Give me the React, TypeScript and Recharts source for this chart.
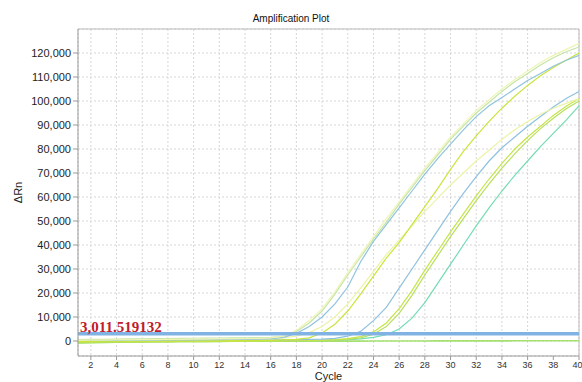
import React from "react";
import {
  LineChart, Line, XAxis, YAxis, CartesianGrid, ReferenceLine,
} from "recharts";

const cycles = [
  1, 2, 3, 4, 5, 6, 7, 8, 9, 10, 11, 12, 13, 14, 15, 16, 17, 18, 19, 20,
  21, 22, 23, 24, 25, 26, 27, 28, 29, 30, 31, 32, 33, 34, 35, 36, 37, 38, 39, 40,
];

const xTicks = [2, 4, 6, 8, 10, 12, 14, 16, 18, 20, 22, 24, 26, 28, 30, 32, 34, 36, 38, 40];
const yTicks = [0, 10000, 20000, 30000, 40000, 50000, 60000, 70000, 80000, 90000, 100000, 110000, 120000];

const threshold = 3011.519132;

// delta Rn per cycle, one array per well
const paleYellowA = [300, 350, 400, 450, 500, 550, 600, 650, 700, 750, 800, 850, 900, 1000, 1100, 1300, 2000, 4500, 8500, 13500, 20500, 28500, 36000, 43500, 51000, 58000, 65000, 72000, 78500, 85000, 90500, 96000, 100500, 105000, 109000, 112500, 116000, 119000, 121500, 124000];
const paleGreenA = [600, 650, 700, 800, 850, 900, 1000, 1050, 1100, 1150, 1200, 1250, 1300, 1350, 1400, 1500, 1900, 4000, 7500, 12500, 19500, 27500, 35000, 42500, 49500, 57000, 64000, 71000, 77500, 84000, 89500, 95000, 99500, 104000, 108000, 111500, 115000, 118000, 120500, 122500];
const blueA = [200, 250, 300, 300, 350, 400, 400, 450, 500, 500, 550, 600, 650, 700, 800, 1000, 1500, 3200, 6000, 10000, 15500, 22500, 33000, 41500, 48500, 55500, 62500, 69500, 76000, 82000, 88000, 93500, 98000, 101500, 105000, 108500, 111500, 114500, 117000, 119000];
const yellowB = [-200, -150, -100, -100, -50, 0, 0, 50, 50, 100, 100, 150, 150, 200, 250, 300, 450, 700, 1300, 3300, 7000, 12500, 19500, 27000, 34500, 41000, 48500, 56000, 63500, 71500, 79000, 85500, 91500, 97000, 102000, 106500, 110500, 114000, 117000, 120000];
const paleYellowB = [100, 150, 200, 200, 250, 300, 300, 350, 400, 400, 450, 500, 550, 600, 700, 900, 1300, 2000, 3500, 6000, 10000, 15500, 22000, 29000, 36000, 42000, 48000, 54000, 59500, 65000, 70000, 75000, 79500, 84000, 88000, 91500, 94500, 97000, 99000, 101000];
const blueC = [0, 50, 100, 100, 150, 200, 200, 250, 300, 300, 350, 350, 400, 400, 450, 450, 500, 550, 650, 800, 1100, 2000, 4000, 8500, 14000, 22000, 30000, 38000, 46000, 54000, 61500, 68500, 75000, 80500, 85000, 89500, 93500, 97500, 101000, 104000];
const yellowC = [-400, -350, -300, -300, -250, -200, -200, -150, -150, -100, -100, -50, -50, 0, 0, 50, 100, 150, 250, 400, 600, 1000, 1800, 3800, 7500, 13500, 21000, 29500, 37500, 45500, 53000, 60500, 67500, 74000, 80000, 85000, 89500, 94000, 97800, 101000];
const limeC = [-600, -550, -500, -500, -450, -400, -400, -350, -300, -300, -250, -200, -200, -150, -100, -100, -50, 0, 100, 200, 400, 700, 1300, 2800, 6000, 11500, 19000, 27500, 35500, 43500, 51000, 58500, 65500, 72000, 78000, 83500, 88500, 92800, 96800, 100000];
const tealC = [-300, -300, -250, -250, -200, -200, -150, -150, -100, -100, -50, -50, 0, 0, 50, 50, 100, 150, 200, 300, 400, 600, 900, 1500, 2600, 5000, 9500, 16000, 24000, 32000, 40000, 48000, 55500, 62500, 69000, 75000, 81000, 86500, 92000, 98000];
const greenNtc = [-900, -800, -700, -600, -500, -450, -400, -350, -300, -300, -250, -250, -200, -200, -200, -150, -150, -100, -100, -100, -50, -50, -50, 0, 0, 0, 0, 0, 50, 50, 50, 50, 50, 50, 100, 100, 100, 100, 100, 100];
const paleNtc = [-300, -250, -200, -200, -150, -150, -100, -100, -100, -50, -50, -50, 0, 0, 0, 0, 0, 0, 0, 0, 0, 0, 0, 0, 0, 0, 0, 0, 0, 0, 0, 0, 0, 0, 0, 0, 0, 0, 0, 0];

const series = [
  { key: "paleNtc", values: paleNtc, color: "#c8ebb4" },
  { key: "greenNtc", values: greenNtc, color: "#92dc4e" },
  { key: "tealC", values: tealC, color: "#74dcb2" },
  { key: "limeC", values: limeC, color: "#b6e05c" },
  { key: "yellowC", values: yellowC, color: "#c6e44a" },
  { key: "blueC", values: blueC, color: "#8ec1e0" },
  { key: "paleYellowB", values: paleYellowB, color: "#ecf3a4" },
  { key: "yellowB", values: yellowB, color: "#c9e53d" },
  { key: "blueA", values: blueA, color: "#90c3df" },
  { key: "paleGreenA", values: paleGreenA, color: "#c5e4a8" },
  { key: "paleYellowA", values: paleYellowA, color: "#eef5b4" },
];

const data = cycles.map((c, i) => {
  const row: Record<string, number> = { cycle: c };
  series.forEach(s => { row[s.key] = s.values[i]; });
  return row;
});

const font = "'Liberation Sans', Arial, sans-serif";

export default function App() {
  return (
    <div style={{ position: "absolute", left: 0, top: 0, width: 582, height: 382, background: "#fff", overflow: "hidden" }}>
      <div style={{
        position: "absolute", left: 0, top: 13, width: 582, textAlign: "center",
        fontFamily: font, fontSize: 10, color: "#111",
      }}>
        Amplification Plot
      </div>
      <LineChart width={582} height={382} data={data} margin={{ top: 29, right: 3, left: 0, bottom: 0 }}>
        <CartesianGrid strokeDasharray="2 2" stroke="#d6d6d6" />
        <XAxis
          dataKey="cycle"
          type="number"
          domain={[1, 40]}
          ticks={xTicks}
          height={26}
          stroke="#999"
          tickSize={4}
          tick={{ fontSize: 9, fill: "#333", fontFamily: font }}
          label={{ value: "Cycle", position: "insideBottom", offset: 2, fontSize: 11, fill: "#222", fontFamily: font }}
        />
        <YAxis
          type="number"
          domain={[-6250, 130000]}
          ticks={yTicks}
          width={78}
          stroke="#999"
          tickSize={5}
          tickMargin={2}
          tickFormatter={(v: number) => v.toLocaleString("en-US")}
          tick={{ fontSize: 11, fill: "#222", fontFamily: font }}
          label={{ value: "ΔRn", angle: -90, position: "insideLeft", offset: 18, style: { textAnchor: "middle" }, fontSize: 11, fill: "#222", fontFamily: font }}
        />
        <ReferenceLine y={130000} stroke="#bbb" />
        <ReferenceLine x={40} stroke="#bbb" />
        {series.map(s => (
          <Line
            key={s.key}
            dataKey={s.key}
            type="linear"
            stroke={s.color}
            strokeWidth={1.2}
            dot={false}
            isAnimationActive={false}
          />
        ))}
        <ReferenceLine
          y={threshold}
          stroke="#80b3e4"
          strokeWidth={3.5}
          label={{
            value: "3,011.519132",
            position: "insideBottomLeft",
            offset: 2,
            fill: "#c0202a",
            fontSize: 15,
            fontWeight: 700,
            fontFamily: "'Liberation Serif', 'Times New Roman', serif",
          }}
        />
      </LineChart>
    </div>
  );
}
